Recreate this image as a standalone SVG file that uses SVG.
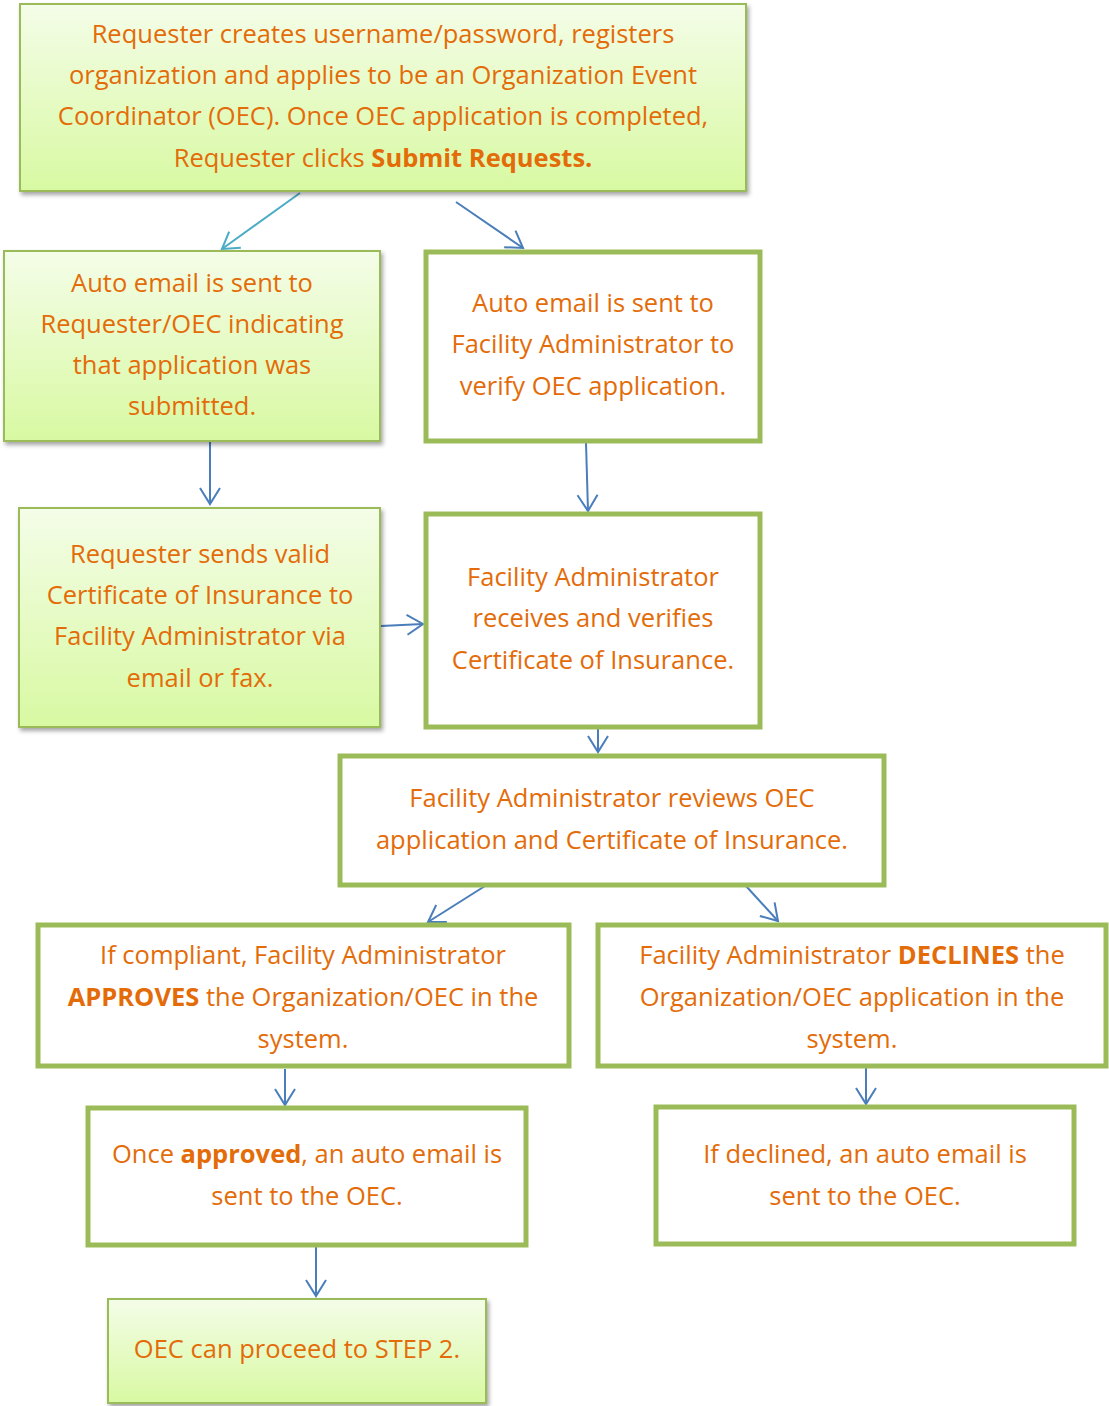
<svg xmlns="http://www.w3.org/2000/svg" width="1109" height="1406" viewBox="0 0 1109 1406">
<defs>
<linearGradient id="g" x1="0" y1="0" x2="0" y2="1">
<stop offset="0" stop-color="#f4fde8"/>
<stop offset="1" stop-color="#d8f9a2"/>
</linearGradient>
<filter id="sh" x="-5%" y="-5%" width="112%" height="115%">
<feDropShadow dx="2" dy="3" stdDeviation="2" flood-color="#000" flood-opacity="0.35"/>
</filter>
<marker id="ah" markerWidth="24" markerHeight="24" refX="17" refY="11" orient="auto" markerUnits="userSpaceOnUse" viewBox="0 0 24 24">
<path d="M1,1 L17,11 L1,21" fill="none" stroke="#4a7ebb" stroke-width="2"/>
</marker>
<marker id="ah2" markerWidth="24" markerHeight="24" refX="17" refY="11" orient="auto" markerUnits="userSpaceOnUse" viewBox="0 0 24 24">
<path d="M1,1 L17,11 L1,21" fill="none" stroke="#4bacc6" stroke-width="2"/>
</marker>
</defs>
<style>
.gb{fill:url(#g);stroke:#9bbb59;stroke-width:2;filter:url(#sh)}
.wb{fill:#fff;stroke:#9bbb59;stroke-width:5}
text{font-family:"Open Sans",Lato,"Liberation Sans",sans-serif;font-size:25.5px;fill:#e36c09;text-anchor:middle}
.b{font-weight:bold}
.c{stroke:#4a7ebb;stroke-width:2;fill:none;marker-end:url(#ah)}
.c2{stroke:#4bacc6;stroke-width:2;fill:none;marker-end:url(#ah2)}
</style>
<g id="connectors">
<line class="c2" x1="300" y1="193" x2="222" y2="249"/>
<line class="c" x1="456" y1="202" x2="523" y2="248"/>
<line class="c" x1="210" y1="442" x2="210" y2="504"/>
<line class="c" x1="586" y1="443" x2="588" y2="511"/>
<line class="c" x1="381" y1="626" x2="423" y2="624"/>
<line class="c" x1="598" y1="729" x2="598" y2="752"/>
<line class="c" x1="485" y1="886" x2="428" y2="922"/>
<line class="c" x1="746" y1="886" x2="778" y2="921"/>
<line class="c" x1="285" y1="1069" x2="285" y2="1105"/>
<line class="c" x1="866" y1="1068" x2="866" y2="1104"/>
<line class="c" x1="316" y1="1247" x2="316" y2="1296"/>
</g>
<g id="n1">
<rect class="gb" x="20" y="4" width="726" height="187"/>
<text x="383" y="43">Requester creates username/password, registers</text>
<text x="383" y="84">organization and applies to be an Organization Event</text>
<text x="383" y="125">Coordinator (OEC). Once OEC application is completed,</text>
<text x="383" y="167">Requester clicks <tspan class="b">Submit Requests.</tspan></text>
</g>
<g id="n2">
<rect class="gb" x="4" y="251" width="376" height="190"/>
<text x="192" y="292">Auto email is sent to</text>
<text x="192" y="333">Requester/OEC indicating</text>
<text x="192" y="374">that application was</text>
<text x="192" y="415">submitted.</text>
</g>
<g id="n3">
<rect class="wb" x="426" y="252" width="334" height="189"/>
<text x="593" y="312">Auto email is sent to</text>
<text x="593" y="353">Facility Administrator to</text>
<text x="593" y="395">verify OEC application.</text>
</g>
<g id="n4">
<rect class="gb" x="19" y="508" width="361" height="219"/>
<text x="200" y="563">Requester sends valid</text>
<text x="200" y="604">Certificate of Insurance to</text>
<text x="200" y="645">Facility Administrator via</text>
<text x="200" y="687">email or fax.</text>
</g>
<g id="n5">
<rect class="wb" x="426" y="514" width="334" height="213"/>
<text x="593" y="586">Facility Administrator</text>
<text x="593" y="627">receives and verifies</text>
<text x="593" y="669">Certificate of Insurance.</text>
</g>
<g id="n6">
<rect class="wb" x="340" y="756" width="544" height="129"/>
<text x="612" y="807">Facility Administrator reviews OEC</text>
<text x="612" y="849">application and Certificate of Insurance.</text>
</g>
<g id="n7">
<rect class="wb" x="38" y="925" width="531" height="141"/>
<text x="303" y="964">If compliant, Facility Administrator</text>
<text x="303" y="1006"><tspan class="b">APPROVES</tspan> the Organization/OEC in the</text>
<text x="303" y="1048">system.</text>
</g>
<g id="n8">
<rect class="wb" x="598" y="925" width="508" height="141"/>
<text x="852" y="964">Facility Administrator <tspan class="b">DECLINES</tspan> the</text>
<text x="852" y="1006">Organization/OEC application in the</text>
<text x="852" y="1048">system.</text>
</g>
<g id="n9">
<rect class="wb" x="88" y="1108" width="438" height="137"/>
<text x="307" y="1163">Once <tspan class="b">approved</tspan>, an auto email is</text>
<text x="307" y="1205">sent to the OEC.</text>
</g>
<g id="n10">
<rect class="wb" x="656" y="1107" width="418" height="137"/>
<text x="865" y="1163">If declined, an auto email is</text>
<text x="865" y="1205">sent to the OEC.</text>
</g>
<g id="n11">
<rect class="gb" x="108" y="1299" width="378" height="104"/>
<text x="297" y="1358">OEC can proceed to STEP 2.</text>
</g>
</svg>
